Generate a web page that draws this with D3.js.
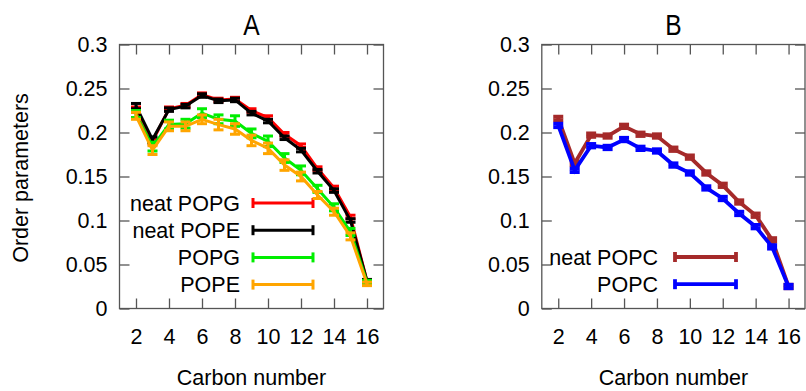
<!DOCTYPE html>
<html>
<head>
<meta charset="utf-8">
<script src="https://cdnjs.cloudflare.com/ajax/libs/d3/7.8.5/d3.min.js"></script>
<style>
body { margin: 0; background: #fff; }
text { font-family: "Liberation Sans", Arial, sans-serif; fill: #000; }
</style>
</head>
<body>
<script>
// carbon positions along the acyl chain
var carbons = [2, 3, 4, 5, 6, 7, 8, 9, 10, 11, 12, 13, 14, 15, 16];

// panel A series (order parameter and its error)
var neatPOPG    = [0.226, 0.190, 0.227, 0.231, 0.243, 0.237, 0.238, 0.225, 0.217, 0.198, 0.185, 0.159, 0.137, 0.104, 0.031];
var neatPOPGErr = [0.003, 0.003, 0.002, 0.002, 0.002, 0.002, 0.002, 0.002, 0.002, 0.002, 0.002, 0.002, 0.002, 0.002, 0.002];
var neatPOPE    = [0.230, 0.192, 0.226, 0.230, 0.242, 0.236, 0.237, 0.222, 0.213, 0.194, 0.180, 0.156, 0.134, 0.100, 0.031];
var neatPOPEErr = [0.003, 0.003, 0.002, 0.002, 0.002, 0.002, 0.002, 0.002, 0.002, 0.002, 0.002, 0.002, 0.002, 0.002, 0.002];
var POPG        = [0.221, 0.184, 0.209, 0.210, 0.222, 0.215, 0.213, 0.199, 0.190, 0.171, 0.157, 0.136, 0.115, 0.087, 0.030];
var POPGErr     = [0.004, 0.005, 0.005, 0.005, 0.005, 0.005, 0.006, 0.005, 0.006, 0.005, 0.005, 0.004, 0.004, 0.004, 0.002];
var POPE        = [0.219, 0.180, 0.207, 0.207, 0.215, 0.209, 0.204, 0.191, 0.182, 0.163, 0.150, 0.129, 0.110, 0.082, 0.028];
var POPEErr     = [0.004, 0.005, 0.005, 0.005, 0.005, 0.006, 0.006, 0.006, 0.006, 0.006, 0.005, 0.004, 0.004, 0.004, 0.002];

// panel B series
var neatPOPC    = [0.216, 0.165, 0.197, 0.196, 0.207, 0.198, 0.196, 0.181, 0.172, 0.154, 0.140, 0.121, 0.106, 0.078, 0.025];
var neatPOPCErr = [0.002, 0.002, 0.002, 0.002, 0.002, 0.002, 0.002, 0.002, 0.002, 0.002, 0.002, 0.002, 0.002, 0.002, 0.002];
var POPC        = [0.208, 0.157, 0.185, 0.183, 0.192, 0.182, 0.179, 0.163, 0.154, 0.137, 0.125, 0.108, 0.093, 0.070, 0.025];
var POPCErr     = [0.002, 0.002, 0.002, 0.002, 0.002, 0.002, 0.002, 0.002, 0.002, 0.002, 0.002, 0.002, 0.002, 0.002, 0.002];

// tick labels
var xTicks = [2, 4, 6, 8, 10, 12, 14, 16];
var yTicks = [0, 0.05, 0.1, 0.15, 0.2, 0.25, 0.3];
var yTickLabels = ["0", "0.05", "0.1", "0.15", "0.2", "0.25", "0.3"];

var width = 806, height = 391;
var fontSize = 21.5;

var svg = d3.select('body')
    .append('svg')
    .attr('width', width)
    .attr('height', height);

// panel layout and series styling
var panels = [
    {
        title: 'A', left: 119.5, right: 383.5, ylabel: 'Order parameters',
        legendX: 240, legendLine: [253, 313], legendY: 203, lw: 3,
        series: [
            { name: 'neat POPG', values: neatPOPG, errors: neatPOPGErr, color: '#ff0000' },
            { name: 'neat POPE', values: neatPOPE, errors: neatPOPEErr, color: '#000000' },
            { name: 'POPG', values: POPG, errors: POPGErr, color: '#00ee00' },
            { name: 'POPE', values: POPE, errors: POPEErr, color: '#ffa500' }
        ]
    },
    {
        title: 'B', left: 541.8, right: 805, ylabel: null,
        legendX: 658, legendLine: [675, 736], legendY: 257, lw: 3.8,
        series: [
            { name: 'neat POPC', values: neatPOPC, errors: neatPOPCErr, color: '#a52a2a' },
            { name: 'POPC', values: POPC, errors: POPCErr, color: '#0000ff' }
        ]
    }
];

// vertical extent of the plot frames
var plotTop = 44.5, plotBottom = 308.5;

panels.forEach(drawPanel);

function drawPanel(p) {
    var x = d3.scaleLinear().domain([1, 17]).range([p.left, p.right]);
    var y = d3.scaleLinear().domain([0, 0.3]).range([plotBottom, plotTop]);

    var g = svg.append('g');

    // axes with inward ticks on all four sides (gnuplot look)
    var bot = g.append('g')
        .attr('transform', 'translate(0,' + plotBottom + ')')
        .call(d3.axisBottom(x).tickValues(xTicks).tickSize(-10).tickPadding(20).tickFormat(d3.format('d')));
    var topAx = g.append('g')
        .attr('transform', 'translate(0,' + plotTop + ')')
        .call(d3.axisTop(x).tickValues(xTicks).tickSize(-10).tickFormat(''));
    var leftAx = g.append('g')
        .attr('transform', 'translate(' + p.left + ',0)')
        .call(d3.axisLeft(y).tickValues(yTicks).tickSize(-10).tickPadding(12)
            .tickFormat(function(d, i) { return yTickLabels[i]; }));
    var rightAx = g.append('g')
        .attr('transform', 'translate(' + p.right + ',0)')
        .call(d3.axisRight(y).tickValues(yTicks).tickSize(-10).tickFormat(''));

    [bot, topAx, leftAx, rightAx].forEach(function(a) {
        a.select('.domain').remove();
        a.selectAll('.tick line').attr('stroke', '#555').attr('stroke-width', 1.3);
        a.selectAll('text').attr('font-size', fontSize).attr('font-family', '"Liberation Sans", Arial, sans-serif').attr('fill', '#000');
    });

    // frame
    g.append('rect')
        .attr('x', p.left).attr('y', plotTop)
        .attr('width', p.right - p.left).attr('height', plotBottom - plotTop)
        .attr('fill', 'none').attr('stroke', '#555').attr('stroke-width', 1.3);

    // title (narrow letterform like the original) and axis labels
    g.append('text')
        .attr('transform', 'translate(' + ((p.left + p.right) / 2) + ',35) scale(0.82,1)')
        .attr('text-anchor', 'middle').attr('font-size', 30)
        .text(p.title);

    g.append('text')
        .attr('x', (p.left + p.right) / 2).attr('y', 385)
        .attr('text-anchor', 'middle').attr('font-size', fontSize)
        .text('Carbon number');

    if (p.ylabel) {
        g.append('text')
            .attr('transform', 'translate(28,178) rotate(-90)')
            .attr('text-anchor', 'middle').attr('font-size', fontSize)
            .text(p.ylabel);
    }

    var line = d3.line()
        .x(function(d, i) { return x(carbons[i]); })
        .y(function(d) { return y(d); });

    var cap = 5;

    p.series.forEach(function(s, k) {
        var sg = g.append('g')
            .attr('stroke', s.color)
            .attr('stroke-width', p.lw)
            .attr('fill', 'none');

        sg.append('path').attr('d', line(s.values)).attr('stroke-linejoin', 'miter');

        // error bars with caps
        var eb = sg.selectAll('g.err')
            .data(s.values)
            .enter().append('g');
        eb.append('line')
            .attr('x1', function(d, i) { return x(carbons[i]); })
            .attr('x2', function(d, i) { return x(carbons[i]); })
            .attr('y1', function(d, i) { return y(d - s.errors[i]); })
            .attr('y2', function(d, i) { return y(d + s.errors[i]); });
        eb.append('line')
            .attr('x1', function(d, i) { return x(carbons[i]) - cap; })
            .attr('x2', function(d, i) { return x(carbons[i]) + cap; })
            .attr('y1', function(d, i) { return y(d - s.errors[i]); })
            .attr('y2', function(d, i) { return y(d - s.errors[i]); });
        eb.append('line')
            .attr('x1', function(d, i) { return x(carbons[i]) - cap; })
            .attr('x2', function(d, i) { return x(carbons[i]) + cap; })
            .attr('y1', function(d, i) { return y(d + s.errors[i]); })
            .attr('y2', function(d, i) { return y(d + s.errors[i]); });

        // legend entry
        var ly = p.legendY + k * 27.2;
        g.append('text')
            .attr('x', p.legendX).attr('y', ly + 7.5)
            .attr('text-anchor', 'end').attr('font-size', fontSize)
            .text(s.name);
        var lg = g.append('g').attr('stroke', s.color).attr('stroke-width', p.lw);
        lg.append('line').attr('x1', p.legendLine[0]).attr('x2', p.legendLine[1]).attr('y1', ly).attr('y2', ly);
        lg.append('line').attr('x1', p.legendLine[0]).attr('x2', p.legendLine[0]).attr('y1', ly - 5).attr('y2', ly + 5);
        lg.append('line').attr('x1', p.legendLine[1]).attr('x2', p.legendLine[1]).attr('y1', ly - 5).attr('y2', ly + 5);
    });
}
</script>
</body>
</html>
